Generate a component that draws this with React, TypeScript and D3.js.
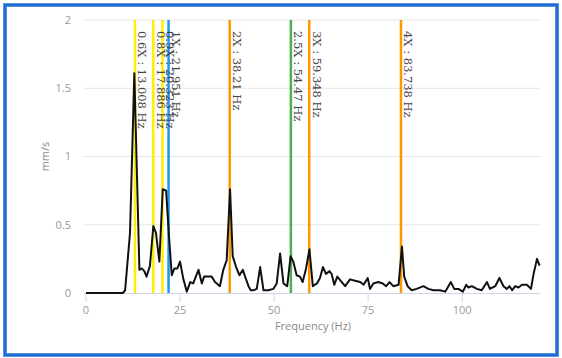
import { useRef, useEffect } from "react";
import * as d3 from "d3";

// spectrum (Hz, mm/s)
const freqs = [
  0, 9.8, 10.4, 11.7, 12.85, 14.2, 14.8, 15.5, 16.1, 17.0, 17.9, 18.6, 19.5, 20.4, 21.3, 22.2,
  22.8, 23.5, 24.3, 25.0, 25.9, 26.8, 27.7, 28.5, 29.9, 30.8, 31.4, 32.5, 33.4, 34.3, 35.6,
  36.5, 37.4, 38.3, 39.0, 39.9, 40.8, 41.7, 42.3, 43.2, 43.8, 44.5, 45.4, 46.3, 47.2, 48.5,
  49.8, 50.7, 51.6, 52.5, 53.5, 54.4, 55.1, 56.0, 56.9, 57.6, 58.5, 59.4, 60.3, 61.4, 62.2,
  63.0, 63.8, 64.7, 65.3, 66.0, 66.8, 68.0, 68.9, 70.2, 71.5, 72.9, 73.8, 74.9, 75.5, 76.4,
  77.7, 78.9, 79.8, 80.7, 81.7, 83.1, 84.0, 84.6, 85.5, 86.6, 87.9, 89.7, 91.0, 92.4, 94.1,
  95.5, 97.0, 97.9, 99.0, 100.2, 101.1, 101.7, 102.6, 103.9, 105.2, 106.6, 107.4, 108.8,
  109.9, 111.0, 111.9, 112.6, 113.3, 114.1, 115.0, 115.9, 117.2, 118.3, 119.0, 119.9, 120.6,
];
const amps = [
  0, 0, 0.02, 0.44, 1.61, 0.17, 0.18, 0.16, 0.12, 0.2, 0.49, 0.44, 0.23, 0.76, 0.75, 0.36,
  0.13, 0.18, 0.18, 0.23, 0.1, 0.01, 0.08, 0.07, 0.17, 0.07, 0.12, 0.12, 0.12, 0.08, 0.05,
  0.17, 0.24, 0.76, 0.27, 0.19, 0.13, 0.17, 0.12, 0.05, 0.02, 0.02, 0.03, 0.19, 0.02, 0.02,
  0.03, 0.07, 0.29, 0.07, 0.05, 0.27, 0.23, 0.13, 0.12, 0.08, 0.18, 0.32, 0.05, 0.07, 0.11,
  0.19, 0.14, 0.16, 0.14, 0.06, 0.12, 0.08, 0.05, 0.1, 0.09, 0.08, 0.06, 0.11, 0.03, 0.07,
  0.08, 0.07, 0.05, 0.08, 0.05, 0.06, 0.34, 0.12, 0.05, 0.02, 0.03, 0.05, 0.03, 0.02, 0.02,
  0.01, 0.08, 0.03, 0.03, 0.01, 0.06, 0.04, 0.05, 0.03, 0.02, 0.08, 0.03, 0.05,
  0.11, 0.05, 0.03, 0.05, 0.02, 0.05, 0.04, 0.06, 0.06, 0.03, 0.14, 0.25, 0.2,
];

// order markers
const markerFreqs = [13.008, 17.886, 20.323, 21.951, 38.21, 54.47, 59.348, 83.738];
const markerLabels = [
  "0.6X : 13.008 Hz",
  "0.8X : 17.886 Hz",
  "0.9X : 20.323 Hz",
  "1X : 21.951 Hz",
  "2X : 38.21 Hz",
  "2.5X : 54.47 Hz",
  "3X : 59.348 Hz",
  "4X : 83.738 Hz",
];
const markerColors = ["#ffee00", "#ffee00", "#ffee00", "#2196f3", "#ff9800", "#4caf50", "#ff9800", "#ff9800"];

const xTicks = [0, 25, 50, 75, 100];
const yTicks = [0, 0.5, 1, 1.5, 2];

export default function App() {
  const svgRef = useRef<SVGSVGElement>(null);

  useEffect(() => {
    const svg = d3.select(svgRef.current);
    svg.selectAll("*").remove();

    const width = 562;
    const height = 358;
    const left = 86, right = 540, top = 20, bottom = 293;
    const axisFont = "'Open Sans', sans-serif";

    const x = d3.scaleLinear().domain([0, 120.7]).range([left, right]);
    const y = d3.scaleLinear().domain([0, 2]).range([bottom, top]);

    svg.attr("width", width).attr("height", height);

    svg.append("rect")
      .attr("x", 0).attr("y", 0)
      .attr("width", width).attr("height", height)
      .attr("fill", "#fff");

    // frame
    svg.append("rect")
      .attr("x", 5).attr("y", 5)
      .attr("width", 552).attr("height", 350)
      .attr("fill", "none")
      .attr("stroke", "#1d6fd2")
      .attr("stroke-width", 3.5);

    // grid
    svg.append("g")
      .selectAll("line")
      .data(yTicks.slice(1))
      .join("line")
      .attr("x1", left - 2).attr("x2", right)
      .attr("y1", d => y(d)).attr("y2", d => y(d))
      .attr("stroke", "#e6e6e6");

    // y labels
    svg.append("g")
      .selectAll("text")
      .data(yTicks)
      .join("text")
      .attr("x", 71)
      .attr("y", d => y(d))
      .attr("dy", "0.35em")
      .attr("text-anchor", "end")
      .style("font-family", axisFont)
      .style("font-size", "11px")
      .style("fill", "#999")
      .text(d => d3.format("~g")(d));

    // x axis
    svg.append("line")
      .attr("x1", left - 2).attr("x2", right)
      .attr("y1", bottom + 0.5).attr("y2", bottom + 0.5)
      .attr("stroke", "#ccd6eb");

    const xt = svg.append("g")
      .selectAll("g")
      .data(xTicks)
      .join("g")
      .attr("transform", d => `translate(${x(d)},0)`);
    xt.append("line")
      .attr("y1", bottom + 1).attr("y2", bottom + 9)
      .attr("stroke", "#ccd6eb");
    xt.append("text")
      .attr("y", 314)
      .attr("text-anchor", "middle")
      .style("font-family", axisFont)
      .style("font-size", "11px")
      .style("fill", "#999")
      .text(d => d);

    svg.append("text")
      .attr("x", (left + right) / 2)
      .attr("y", 330)
      .attr("text-anchor", "middle")
      .style("font-family", axisFont)
      .style("font-size", "11px")
      .style("fill", "#888")
      .text("Frequency (Hz)");

    svg.append("text")
      .attr("transform", `translate(49,${(top + bottom) / 2}) rotate(-90)`)
      .attr("text-anchor", "middle")
      .style("font-family", axisFont)
      .style("font-size", "11px")
      .style("fill", "#888")
      .text("mm/s");

    // marker lines
    svg.append("g")
      .selectAll("line")
      .data(markerFreqs)
      .join("line")
      .attr("x1", d => x(d)).attr("x2", d => x(d))
      .attr("y1", top).attr("y2", bottom)
      .attr("stroke", (d, i) => markerColors[i])
      .attr("stroke-width", 2.5);

    // spectrum
    const line = d3.line<number>()
      .x((d, i) => x(freqs[i]))
      .y(d => y(d));
    svg.append("path")
      .datum(amps)
      .attr("d", line)
      .attr("fill", "none")
      .attr("stroke", "#111")
      .attr("stroke-width", 2)
      .attr("stroke-linejoin", "round");

    // marker labels
    svg.append("g")
      .selectAll("text")
      .data(markerFreqs)
      .join("text")
      .attr("transform", d => `translate(${x(d) + 3.5},31) rotate(90)`)
      .style("font-family", "'DejaVu Serif', serif")
      .style("font-size", "11.5px")
      .style("fill", "#444")
      .text((d, i) => markerLabels[i]);
  }, []);

  return <svg ref={svgRef} style={{ position: "absolute", left: 0, top: 0, display: "block" }}></svg>;
}
